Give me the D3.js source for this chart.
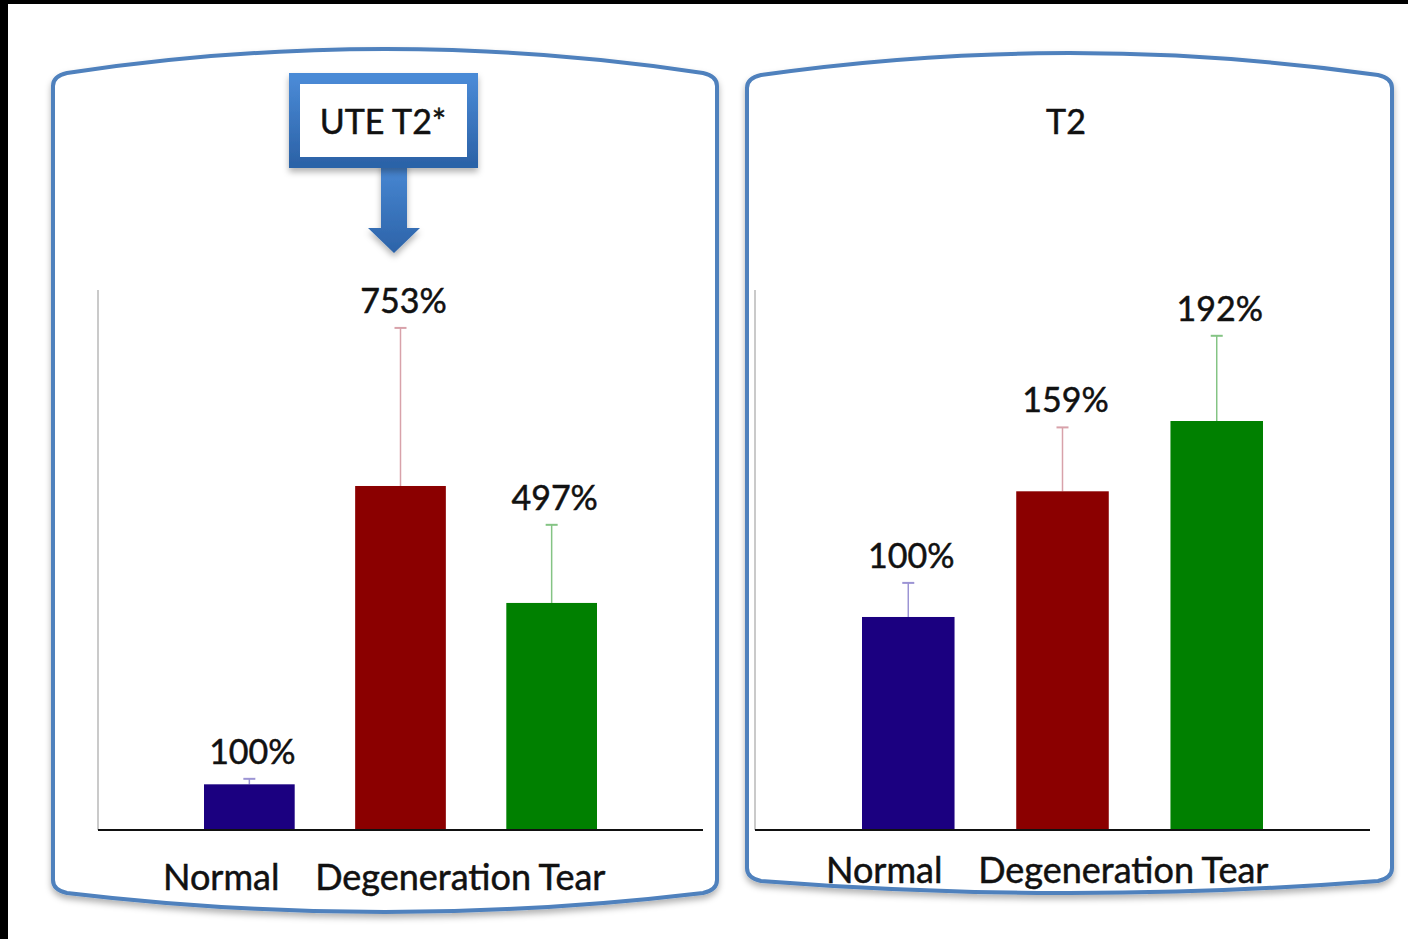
<!DOCTYPE html>
<head>
    <title>UTE T2* vs T2</title>
</head>
<body>
<style>
    body { margin: 0; background: #fff; }
    svg { font-family: Lato, "Open Sans", sans-serif; }
    .txt { fill: #111; stroke: #111; stroke-width: 0.5px; }
</style>
<svg width="1408" height="939"></svg>

<script src="https://cdn.jsdelivr.net/npm/d3@7"></script>
<script>
    // data (values in % of normal)
    var categories = ["Normal", "Degeneration", "Tear"];
    var barColors = ["#1b0080", "#8b0000", "#008000"];
    var errColors = ["#9c94d4", "#d8a2aa", "#84c484"];

    var uteValues = [100, 753, 497];
    var uteErrors = [12, 346, 171];
    var uteAxisMax = 1182;

    var t2Values = [100, 159, 192];
    var t2Errors = [16, 30, 40];
    var t2AxisMax = 253.5;

    var svg = d3.select("svg");

    // black strips on the top and left edge of the slide grab
    svg.append("rect").attr("x", 0).attr("y", 0).attr("width", 1408).attr("height", 4).attr("fill", "#000");
    svg.append("rect").attr("x", 0).attr("y", 0).attr("width", 8).attr("height", 939).attr("fill", "#000");

    var defs = svg.append("defs");
    var shadow = defs.append("filter").attr("id", "shadow")
        .attr("x", "-10%").attr("y", "-10%").attr("width", "120%").attr("height", "130%");
    shadow.append("feDropShadow").attr("dx", 0).attr("dy", 4).attr("stdDeviation", 3)
        .attr("flood-color", "#000").attr("flood-opacity", 0.3);

    var grad = defs.append("linearGradient").attr("id", "blueGrad")
        .attr("x1", 0).attr("y1", 0).attr("x2", 0).attr("y2", 1);
    grad.append("stop").attr("offset", "0%").attr("stop-color", "#4a8ad6");
    grad.append("stop").attr("offset", "100%").attr("stop-color", "#2c63a8");

    // panel outline: rounded corners with slightly bowed top and bottom
    function panelPath(x0, x1, yt, ytc, yb, ybc) {
        var cx = (x0 + x1) / 2, r = 14;
        var p = d3.path();
        p.moveTo(x0, yb - 6);
        p.lineTo(x0, yt + 6);
        p.quadraticCurveTo(x0, yt - 4, x0 + r, yt - 7);
        p.quadraticCurveTo(cx, 2 * ytc - (yt - 7), x1 - r, yt - 7);
        p.quadraticCurveTo(x1, yt - 4, x1, yt + 6);
        p.lineTo(x1, yb - 6);
        p.quadraticCurveTo(x1, yb + 4, x1 - r, yb + 7);
        p.quadraticCurveTo(cx, 2 * ybc - (yb + 7), x0 + r, yb + 7);
        p.quadraticCurveTo(x0, yb + 4, x0, yb - 6);
        return p.toString();
    }

    function drawPanel(opt) {
        svg.append("path")
            .attr("d", panelPath(opt.px0, opt.px1, opt.pyt, opt.pytc, opt.pyb, opt.pybc))
            .attr("fill", "#fff")
            .attr("stroke", "#4f81bd")
            .attr("stroke-width", 4)
            .attr("filter", "url(#shadow)");

        var x = d3.scaleBand()
            .domain(categories)
            .range([opt.bx0, opt.bx1])
            .paddingInner(0.4)
            .paddingOuter(0);
        var y = d3.scaleLinear()
            .domain([0, opt.axisMax])
            .range([opt.base, opt.top]);

        var g = svg.append("g");

        // axes
        g.append("line")
            .attr("x1", opt.ax).attr("x2", opt.ax)
            .attr("y1", y(0)).attr("y2", y(opt.axisMax))
            .attr("stroke", "#b8b8b8").attr("stroke-width", 1.5);

        var rows = categories.map(function(c, i) {
            return { cat: c, v: opt.values[i], e: opt.errors[i], i: i };
        });

        // error bars (upper only)
        var eb = g.selectAll("g.err").data(rows).enter().append("g").attr("class", "err");
        eb.append("line")
            .attr("x1", function(d) { return x(d.cat) + x.bandwidth() / 2; })
            .attr("x2", function(d) { return x(d.cat) + x.bandwidth() / 2; })
            .attr("y1", function(d) { return y(d.v); })
            .attr("y2", function(d) { return y(d.v + d.e); })
            .attr("stroke", function(d) { return errColors[d.i]; })
            .attr("stroke-width", 1.5);
        eb.append("line")
            .attr("x1", function(d) { return x(d.cat) + x.bandwidth() / 2 - 6; })
            .attr("x2", function(d) { return x(d.cat) + x.bandwidth() / 2 + 6; })
            .attr("y1", function(d) { return y(d.v + d.e); })
            .attr("y2", function(d) { return y(d.v + d.e); })
            .attr("stroke", function(d) { return errColors[d.i]; })
            .attr("stroke-width", 2);

        g.selectAll("rect.bar").data(rows).enter().append("rect")
            .attr("class", "bar")
            .attr("x", function(d) { return x(d.cat); })
            .attr("y", function(d) { return y(d.v); })
            .attr("width", x.bandwidth())
            .attr("height", function(d) { return y(0) - y(d.v); })
            .attr("fill", function(d) { return barColors[d.i]; });

        g.append("line")
            .attr("x1", opt.ax).attr("x2", opt.axEnd)
            .attr("y1", y(0)).attr("y2", y(0))
            .attr("stroke", "#111").attr("stroke-width", 2);

        // value labels
        g.selectAll("text.val").data(rows).enter().append("text")
            .attr("class", "val txt")
            .attr("x", function(d) { return x(d.cat) + x.bandwidth() / 2 + 3; })
            .attr("y", function(d) { return y(d.v + d.e) - 15; })
            .attr("text-anchor", "middle")
            .attr("font-size", 34)
            .text(function(d) { return d.v + "%"; });

        // category labels, set as one line of text like the slide
        var lab = g.append("text")
            .attr("class", "txt")
            .attr("x", opt.labelX)
            .attr("y", opt.labelY)
            .attr("font-size", 36);
        lab.selectAll("tspan").data(categories).enter().append("tspan")
            .attr("dx", function(d, i) { return i === 0 ? 0 : (i === 1 ? 36 : 12); })
            .text(function(d) { return d; });

        // title
        svg.append("text")
            .attr("class", "txt")
            .attr("x", opt.titleX)
            .attr("y", 134)
            .attr("text-anchor", "middle")
            .attr("font-size", 34)
            .text(opt.title);
    }

    drawPanel({
        px0: 53, px1: 717, pyt: 80, pytc: 49, pyb: 886, pybc: 912,
        bx0: 204, bx1: 597, ax: 98, axEnd: 703, base: 830, top: 290,
        axisMax: uteAxisMax, values: uteValues, errors: uteErrors,
        labelX: 163, labelY: 890, titleX: 383, title: ""
    });
    drawPanel({
        px0: 747, px1: 1392, pyt: 82, pytc: 53, pyb: 874, pybc: 893,
        bx0: 862, bx1: 1263, ax: 755, axEnd: 1370, base: 830, top: 290,
        axisMax: t2AxisMax, values: t2Values, errors: t2Errors,
        labelX: 826, labelY: 883, titleX: 1066, title: "T2"
    });

    // UTE T2* title box with arrow
    svg.append("path")
        .attr("d", "M381,160 L407,160 L407,228 L420,228 L394,253 L368,228 L381,228 Z")
        .attr("fill", "url(#blueGrad)")
        .attr("filter", "url(#shadow)");
    svg.append("rect")
        .attr("x", 294.5).attr("y", 78.5).attr("width", 178).attr("height", 84)
        .attr("fill", "#fff")
        .attr("stroke", "url(#blueGrad)")
        .attr("stroke-width", 11)
        .attr("filter", "url(#shadow)");
    svg.append("text")
        .attr("class", "txt")
        .attr("x", 383).attr("y", 134)
        .attr("text-anchor", "middle")
        .attr("font-size", 34)
        .text("UTE T2*");
</script>
</body>
